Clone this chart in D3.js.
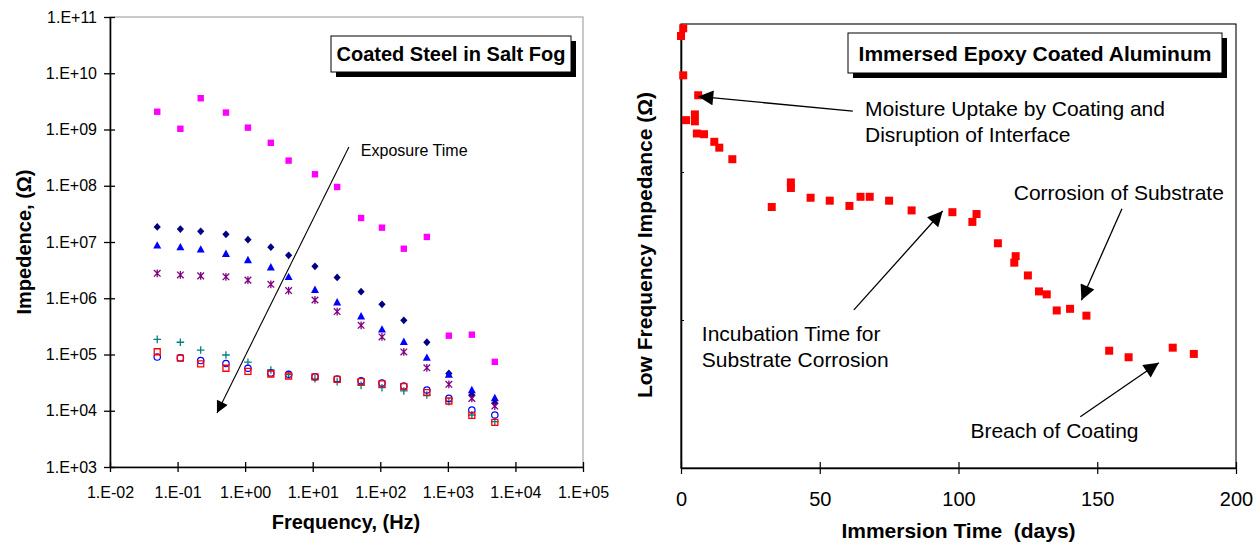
<!DOCTYPE html>
<html><head><meta charset="utf-8">
<script src="https://cdn.jsdelivr.net/npm/d3@7"></script>
<style>
html,body{margin:0;padding:0;background:#fff;}
svg{display:block;font-family:Arial,"Liberation Sans",sans-serif;}
</style></head>
<body><svg id="c" width="1257" height="547"></svg>
<script>
// ---------- Left chart data: Coated Steel in Salt Fog ----------
const freq = [0.05,0.11,0.22,0.52,1.1,2.4,4.4,10.8,23,52,106,223,489,1035,2265,4955];
const zPink   = [2.07e9,1.03e9,3.6e9,2.0e9,1.08e9,5.8e8,2.8e8,1.6e8,9.5e7,2.67e7,1.8e7,7.6e6,1.23e7,2.16e5,2.25e5,7.4e4];
const zNavy   = [1.85e7,1.7e7,1.55e7,1.37e7,1.1e7,8.1e6,5.8e6,3.7e6,2.35e6,1.31e6,7.8e5,4.05e5,1.65e5,4.6e4,1.9e4,1.36e4];
const zBlueTri= [8.7e6,8.1e6,7.4e6,6.2e6,4.8e6,3.55e6,2.4e6,1.42e6,8.5e5,4.8e5,2.8e5,1.69e5,8.8e4,4.4e4,2.34e4,1.69e4];
const zPurple = [2.77e6,2.6e6,2.5e6,2.4e6,2.1e6,1.77e6,1.37e6,9.3e5,5.8e5,3.3e5,2.05e5,1.11e5,5.8e4,2.95e4,1.66e4,1.21e4];
const zTeal   = [1.86e5,1.65e5,1.2e5,9.8e4,7.3e4,5.3e4,4.4e4,3.7e4,3.3e4,2.83e4,2.57e4,2.25e4,1.9e4,1.45e4,8.4e3,6.4e3];
const zCircle = [9.0e4,8.7e4,7.8e4,6.9e4,5.7e4,4.7e4,4.45e4,4.0e4,3.67e4,3.4e4,3.1e4,2.75e4,2.34e4,1.66e4,1.03e4,8.4e3];
const zRedSq  = [1.12e5,8.6e4,6.8e4,5.7e4,5.0e4,4.5e4,4.15e4,4.0e4,3.6e4,3.3e4,3.0e4,2.68e4,2.1e4,1.49e4,8.3e3,6.2e3];
const leftYTicks = [1e3,1e4,1e5,1e6,1e7,1e8,1e9,1e10,1e11];
const leftXTicks = [1e-2,1e-1,1e0,1e1,1e2,1e3,1e4,1e5];

// ---------- Right chart data: Immersed Epoxy Coated Aluminum ----------
const days = [0.8,0,0.8,6.2,1.8,5.0,5.0,5.7,8.3,12.0,13.8,18.5,32.7,39.6,39.6,46.7,53.6,60.7,64.7,68.0,75.0,83.1,97.8,106.5,105.0,114.2,120.6,120.1,125.0,129.0,131.8,135.4,140.2,146.1,154.3,161.3,177.2,184.8];
const lfImp = [9.35e7,8.3e7,4.5e7,3.3e7,2.24e7,2.45e7,2.2e7,1.82e7,1.8e7,1.6e7,1.46e7,1.22e7,5.8e6,8.5e6,7.8e6,6.7e6,6.4e6,5.9e6,6.8e6,6.8e6,6.4e6,5.5e6,5.35e6,5.2e6,4.6e6,3.3e6,2.7e6,2.44e6,2.0e6,1.56e6,1.49e6,1.16e6,1.19e6,1.07e6,6.2e5,5.6e5,6.5e5,5.9e5];
const rightXTicks = [0,50,100,150,200];
const rightYTicks = [1e6,1e7];

const svg = d3.select("#c");

// ================= LEFT CHART =================
const L = {l:110, r:583, t:17, b:467};
const xL = d3.scaleLog().domain([1e-2,1e5]).range([L.l,L.r]);
const yL = d3.scaleLog().domain([1e3,1e11]).range([L.b,L.t]);
const expFmt = v => { const e = Math.round(Math.log10(v)); return "1.E" + (e<0?"-":"+") + String(Math.abs(e)).padStart(2,"0"); };

const gL = svg.append("g");
gL.append("rect").attr("x",L.l).attr("y",L.t).attr("width",L.r-L.l).attr("height",L.b-L.t)
  .attr("fill","none").attr("stroke","#a6a6a6").attr("stroke-width",1.2);

const yAxL = d3.axisLeft(yL).tickValues(leftYTicks).tickFormat(expFmt).tickSizeInner(6).tickSizeOuter(0).tickPadding(7);
const gyL = gL.append("g").attr("transform",`translate(${L.l},0)`).call(yAxL);
gyL.select(".domain").attr("stroke","#000").attr("stroke-width",1.6);
gyL.selectAll(".tick line").attr("stroke","#000").attr("stroke-width",1.3).attr("x2",-6).attr("x1",5);
gyL.selectAll(".tick text").attr("font-size",16).attr("fill","#000").attr("font-family","Arial, Liberation Sans, sans-serif");

const xAxL = d3.axisBottom(xL).tickValues(leftXTicks).tickFormat(expFmt).tickSizeInner(6).tickSizeOuter(0).tickPadding(14);
const gxL = gL.append("g").attr("transform",`translate(0,${L.b})`).call(xAxL);
gxL.select(".domain").attr("stroke","#000").attr("stroke-width",1.6);
gxL.selectAll(".tick line").attr("stroke","#000").attr("stroke-width",1.3).attr("y1",-5).attr("y2",5);
gxL.selectAll(".tick text").attr("font-size",16).attr("fill","#000").attr("font-family","Arial, Liberation Sans, sans-serif");

gL.append("text").attr("x",(L.l+L.r)/2-0.5).attr("y",529).attr("text-anchor","middle")
  .attr("font-size",20).attr("font-weight","bold").text("Frequency, (Hz)");
gL.append("text").attr("transform",`translate(31,242) rotate(-90)`).attr("text-anchor","middle")
  .attr("font-size",20).attr("font-weight","bold").text("Impedence, (Ω)");

const series = [
  {vals:zPink, kind:"sqFill", color:"#ff00ff"},
  {vals:zNavy, kind:"diamond", color:"#000080"},
  {vals:zBlueTri, kind:"tri", color:"#0000ff"},
  {vals:zPurple, kind:"star", color:"#800080"},
  {vals:zTeal, kind:"plus", color:"#008080"},
  {vals:zCircle, kind:"circle", color:"#0000ff"},
  {vals:zRedSq, kind:"sqOpen", color:"#ff0000"}
];
const paths = {
  sqFill:"M-3.2,-3.2H3.2V3.2H-3.2Z",
  diamond:"M0,-3.9L3.6,0L0,3.9L-3.6,0Z",
  tri:"M0,-4.2L4,3.2L-4,3.2Z",
  star:"M-3.3,-3.3L3.3,3.3M3.3,-3.3L-3.3,3.3M0,-3.9V3.9",
  plus:"M-3.8,0H3.8M0,-3.8V3.8",
  sqOpen:"M-3,-3H3V3H-3Z"
};
series.forEach(s => {
  const g = gL.append("g");
  const pts = freq.map((f,i)=>({f, z:s.vals[i]}));
  if (s.kind==="circle") {
    g.selectAll("circle").data(pts).join("circle")
      .attr("cx",d=>xL(d.f)).attr("cy",d=>yL(d.z)).attr("r",3.2)
      .attr("fill","none").attr("stroke",s.color).attr("stroke-width",1.2);
  } else {
    const filled = ["sqFill","diamond","tri"].includes(s.kind);
    g.selectAll("path").data(pts).join("path")
      .attr("transform",d=>`translate(${xL(d.f)},${yL(d.z)})`)
      .attr("d",paths[s.kind])
      .attr("fill",filled?s.color:"none")
      .attr("stroke",filled?"none":s.color)
      .attr("stroke-width",1.3);
  }
});

const defs = svg.append("defs");
defs.append("marker").attr("id","ahS").attr("viewBox","0 0 10 10").attr("refX",10).attr("refY",5)
  .attr("markerUnits","userSpaceOnUse").attr("markerWidth",15).attr("markerHeight",12).attr("orient","auto")
  .append("path").attr("d","M0,0L10,5L0,10Z").attr("fill","#000");
defs.append("marker").attr("id","ahL").attr("viewBox","0 0 10 10").attr("refX",10).attr("refY",5)
  .attr("markerUnits","userSpaceOnUse").attr("markerWidth",18).attr("markerHeight",15).attr("orient","auto")
  .append("path").attr("d","M0,0L10,5L0,10Z").attr("fill","#000");

const expArrow = {from:[34.3,4.9e8], to:[0.383,9.1e3]};
gL.append("line").attr("x1",xL(expArrow.from[0])).attr("y1",yL(expArrow.from[1]))
  .attr("x2",xL(expArrow.to[0])).attr("y2",yL(expArrow.to[1]))
  .attr("stroke","#000").attr("stroke-width",1.1).attr("marker-end","url(#ahS)");
gL.append("text").attr("x",xL(51.6)).attr("y",yL(4.3e8)).attr("dy","0.35em")
  .attr("font-size",16).text("Exposure Time");

function titleBox(g,x,y,w,h,txt,fs){
  g.append("rect").attr("x",x+5).attr("y",y+5).attr("width",w).attr("height",h).attr("fill","#000");
  g.append("rect").attr("x",x).attr("y",y).attr("width",w).attr("height",h).attr("fill","#fff").attr("stroke","#000").attr("stroke-width",1);
  g.append("text").attr("x",x+w/2).attr("y",y+h/2).attr("dy","0.36em").attr("text-anchor","middle")
    .attr("font-size",fs).attr("font-weight","bold").text(txt);
}
titleBox(gL,331,36,240,36,"Coated Steel in Salt Fog",20);

// ================= RIGHT CHART =================
const R = {l:681, r:1236, t:24, b:468};
const xR = d3.scaleLinear().domain([0,200]).range([R.l,R.r]);
const yR = d3.scaleLog().domain([1e5,1e8]).range([R.b,R.t]);
const gR = svg.append("g");
gR.append("rect").attr("x",R.l).attr("y",R.t).attr("width",R.r-R.l).attr("height",R.b-R.t)
  .attr("fill","none").attr("stroke","#000").attr("stroke-width",1.1);

const xAxR = d3.axisBottom(xR).tickValues(rightXTicks).tickFormat(d3.format("d")).tickSizeInner(6).tickSizeOuter(0).tickPadding(18);
const gxR = gR.append("g").attr("transform",`translate(0,${R.b})`).call(xAxR);
gxR.select(".domain").attr("stroke","#000").attr("stroke-width",1.6);
gxR.selectAll(".tick line").attr("stroke","#000").attr("stroke-width",1.2).attr("y1",-6).attr("y2",6);
gxR.selectAll(".tick text").attr("font-size",20).attr("fill","#000").attr("font-family","Arial, Liberation Sans, sans-serif");

const yAxR = d3.axisLeft(yR).tickValues(rightYTicks).tickFormat("").tickSizeInner(0).tickSizeOuter(0);
const gyR = gR.append("g").attr("transform",`translate(${R.l},0)`).call(yAxR);
gyR.select(".domain").attr("stroke","#000").attr("stroke-width",1.6);
gyR.selectAll(".tick line").attr("stroke","#000").attr("stroke-width",1).attr("x1",0).attr("x2",3);

gR.append("text").attr("x",(R.l+R.r)/2).attr("y",538).attr("text-anchor","middle")
  .attr("font-size",21).attr("font-weight","bold").attr("xml:space","preserve").text("Immersion Time  (days)");
gR.append("text").attr("transform",`translate(652,245) rotate(-90)`).attr("text-anchor","middle")
  .attr("font-size",21).attr("font-weight","bold").text("Low Frequency Impedance (Ω)");

gR.append("g").selectAll("rect").data(days.map((d,i)=>({d, z:lfImp[i]}))).join("rect")
  .attr("x",d=>xR(d.d)-4).attr("y",d=>yR(d.z)-4).attr("width",8).attr("height",8).attr("fill","#ff0000");

titleBox(gR,848,33,374,40,"Immersed Epoxy Coated Aluminum",21);

const annTexts = [
  {x:66.3, z:2.70e7, lines:["Moisture Uptake by Coating and","Disruption of Interface"]},
  {x:119.9, z:7.24e6, lines:["Corrosion of Substrate"]},
  {x:7.5, z:8.13e5, lines:["Incubation Time for","Substrate Corrosion"]},
  {x:104.3, z:1.79e5, lines:["Breach of Coating"]}
];
const annArrows = [
  {from:[61.9,2.58e7], to:[6.2,3.24e7]},
  {from:[158.9,5.65e6], to:[144.3,1.36e6]},
  {from:[62.3,1.17e6], to:[94.3,5.45e6]},
  {from:[143.9,2.22e5], to:[172.2,5.14e5]}
];
annTexts.forEach(a=>{
  const t = gR.append("text").attr("x",xR(a.x)).attr("y",yR(a.z)).attr("font-size",21);
  a.lines.forEach((ln,i)=>t.append("tspan").attr("x",xR(a.x)).attr("dy", i===0?"0.35em":"1.27em").text(ln));
});
annArrows.forEach(a=>{
  gR.append("line").attr("x1",xR(a.from[0])).attr("y1",yR(a.from[1]))
    .attr("x2",xR(a.to[0])).attr("y2",yR(a.to[1]))
    .attr("stroke","#000").attr("stroke-width",1.3).attr("marker-end","url(#ahL)");
});
</script>
</body></html>
